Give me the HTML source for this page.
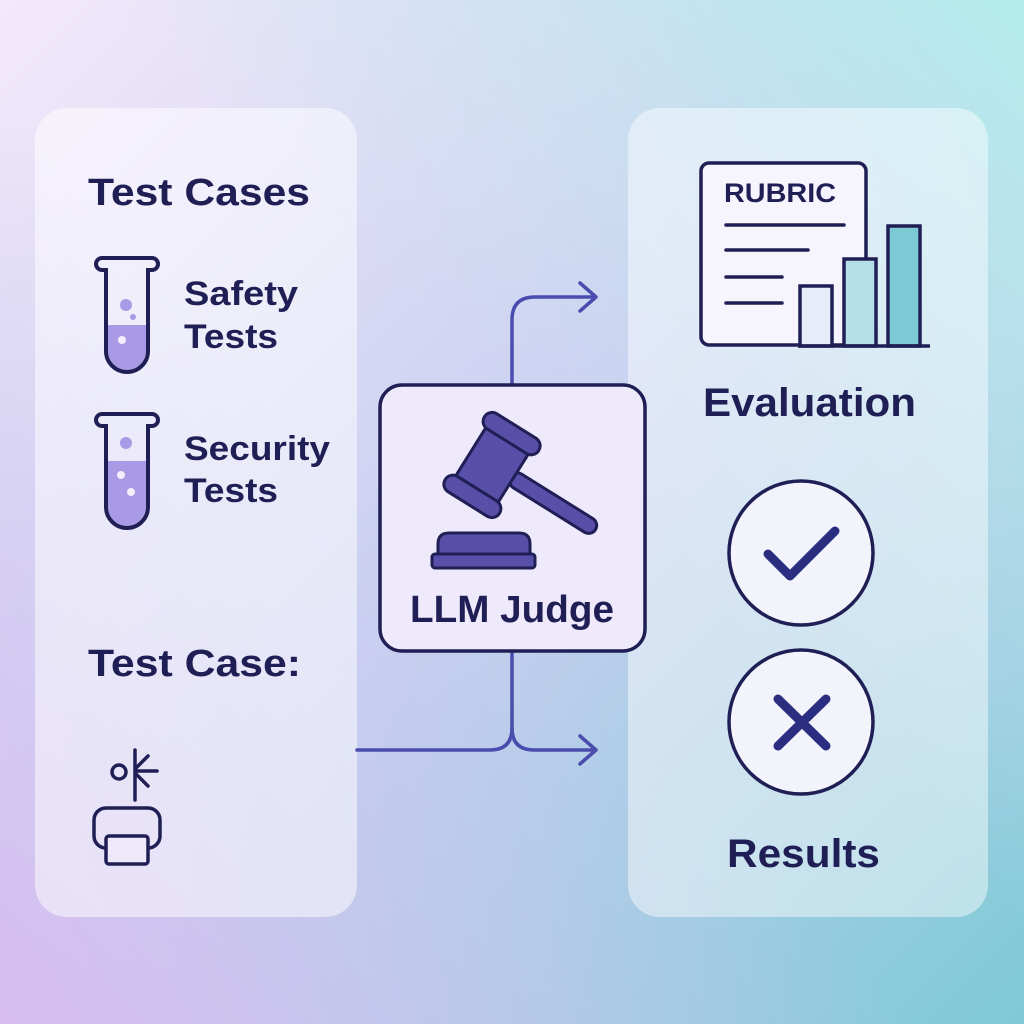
<!DOCTYPE html>
<html><head><meta charset="utf-8"><style>
html,body{margin:0;padding:0;width:1024px;height:1024px;overflow:hidden}
text{font-family:"Liberation Sans",sans-serif;font-weight:700;fill:#1f1f55}
</style></head><body>
<svg width="1024" height="1024" viewBox="0 0 1024 1024" xmlns="http://www.w3.org/2000/svg">
<defs>
<linearGradient id="bg" x1="0" y1="0" x2="1" y2="1">
<stop offset="0" stop-color="#f3e9fb"/>
<stop offset="0.5" stop-color="#c9cff0"/>
<stop offset="1" stop-color="#7fcad6"/>
</linearGradient>
<linearGradient id="bg2" x1="0" y1="1" x2="1" y2="0">
<stop offset="0" stop-color="#d8bdf0" stop-opacity="1"/>
<stop offset="0.45" stop-color="#c8c8ef" stop-opacity="0"/>
<stop offset="0.55" stop-color="#c8e8f0" stop-opacity="0"/>
<stop offset="1" stop-color="#b2ecec" stop-opacity="1"/>
</linearGradient>
</defs>
<rect width="1024" height="1024" fill="url(#bg)"/>
<rect width="1024" height="1024" fill="url(#bg2)"/>
<rect x="35" y="108" width="322" height="809" rx="32" fill="#ffffff" fill-opacity="0.5"/>
<rect x="628" y="108" width="360" height="809" rx="32" fill="#ffffff" fill-opacity="0.45"/>

<g fill="none" stroke="#4a4cae" stroke-width="3.5" stroke-linecap="round" stroke-linejoin="round">
<path d="M357 750 H490 Q512 750 512 728 V320 Q512 297 535 297 H595"/>
<path d="M512 728 Q512 750 534 750 H595"/>
<path d="M580 283 L596 297 L580 311"/>
<path d="M580 736 L596 750 L580 764"/>
</g>

<text x="88" y="205" font-size="38" textLength="222" lengthAdjust="spacingAndGlyphs">Test Cases</text>
<text x="184" y="305" font-size="34" textLength="114" lengthAdjust="spacingAndGlyphs">Safety</text>
<text x="184" y="348" font-size="34" textLength="94" lengthAdjust="spacingAndGlyphs">Tests</text>
<text x="184" y="460" font-size="34" textLength="146" lengthAdjust="spacingAndGlyphs">Security</text>
<text x="184" y="502" font-size="34" textLength="94" lengthAdjust="spacingAndGlyphs">Tests</text>
<text x="88" y="676" font-size="38" textLength="213" lengthAdjust="spacingAndGlyphs">Test Case:</text>

<!-- test tubes -->
<g>
<path d="M108 325 h38 v26 a19 19 0 0 1 -38 0z" fill="#a99ae6"/>
<circle cx="126" cy="305" r="6" fill="#a99ae6"/><circle cx="133" cy="317" r="3" fill="#a99ae6"/>
<circle cx="122" cy="340" r="4" fill="#f4effc"/>
<path d="M106 270 h-4 a6 6 0 0 1 0-12 h50 a6 6 0 0 1 0 12 h-4 v81 a21 21 0 0 1 -42 0z" fill="none" stroke="#1f1f55" stroke-width="4"/>
</g>
<g transform="translate(0,156)">
<path d="M108 305 h38 v46 a19 19 0 0 1 -38 0z" fill="#a99ae6"/>
<circle cx="126" cy="287" r="6" fill="#a99ae6"/>
<circle cx="121" cy="319" r="4" fill="#f4effc"/><circle cx="131" cy="336" r="4" fill="#f4effc"/>
<path d="M106 270 h-4 a6 6 0 0 1 0-12 h50 a6 6 0 0 1 0 12 h-4 v81 a21 21 0 0 1 -42 0z" fill="none" stroke="#1f1f55" stroke-width="4"/>
</g>

<!-- small icon -->
<g fill="none" stroke="#1f1f55" stroke-width="3.5" stroke-linecap="round">
<circle cx="119" cy="772" r="7"/>
<path d="M135 750 v50 M135 771 h22 M136 768 l12 -12 M136 774 l12 12"/>
<rect x="94" y="808" width="66" height="40" rx="12"/>
<rect x="106" y="836" width="42" height="28" rx="3" fill="#f0e8fb"/>
</g>

<!-- judge box -->
<rect x="380" y="385" width="265" height="266" rx="22" fill="#efeafb" stroke="#1f1f55" stroke-width="3.5"/>
<g stroke="#1f1f55" stroke-width="3" fill="#5a4fa8" stroke-linejoin="round" transform="translate(492,465) rotate(32)">
<rect x="22" y="-8" width="100" height="16" rx="8"/>
<rect x="-25" y="-34" width="50" height="68"/>
<rect x="-32" y="-46" width="64" height="18" rx="9"/>
<rect x="-32" y="28" width="64" height="18" rx="9"/>
</g>
<g stroke="#1f1f55" stroke-width="3" fill="#5a4fa8" stroke-linejoin="round">
<path d="M438 554 v-10 q0-11 11-11 h70 q11 0 11 11 v10z"/>
<rect x="432" y="554" width="103" height="14" rx="3"/>
</g>
<text x="512" y="622" font-size="38" text-anchor="middle" textLength="204" lengthAdjust="spacingAndGlyphs">LLM Judge</text>

<!-- rubric -->
<rect x="701" y="163" width="165" height="182" rx="8" fill="#f6f4fc" stroke="#1f1f55" stroke-width="3.5"/>
<text x="724" y="202" font-size="27" textLength="112" lengthAdjust="spacingAndGlyphs">RUBRIC</text>
<g stroke="#1f1f55" stroke-width="3.5" stroke-linecap="round">
<path d="M726 225 h118 M726 250 h82 M726 277 h56 M726 303 h56"/>
</g>
<rect x="800" y="286" width="32" height="60" fill="#e6ecf9" stroke="#1f1f55" stroke-width="3.5"/>
<rect x="844" y="259" width="32" height="87" fill="#b5e0e8" stroke="#1f1f55" stroke-width="3.5"/>
<rect x="888" y="226" width="32" height="120" fill="#7ccad4" stroke="#1f1f55" stroke-width="3.5"/>
<path d="M798 346 H930" stroke="#1f1f55" stroke-width="3.5"/>
<text x="703" y="416" font-size="40" textLength="213" lengthAdjust="spacingAndGlyphs">Evaluation</text>

<circle cx="801" cy="553" r="72" fill="#f3f3fb" stroke="#1f1f55" stroke-width="3.5"/>
<path d="M768 554 L790 576 L835 531" fill="none" stroke="#2b2e80" stroke-width="9" stroke-linecap="round" stroke-linejoin="round"/>
<circle cx="801" cy="722" r="72" fill="#f3f3fb" stroke="#1f1f55" stroke-width="3.5"/>
<path d="M778 699 L826 746 M826 699 L778 746" fill="none" stroke="#2b2e80" stroke-width="9" stroke-linecap="round"/>
<text x="727" y="867" font-size="40" textLength="153" lengthAdjust="spacingAndGlyphs">Results</text>
</svg>
</body></html>
